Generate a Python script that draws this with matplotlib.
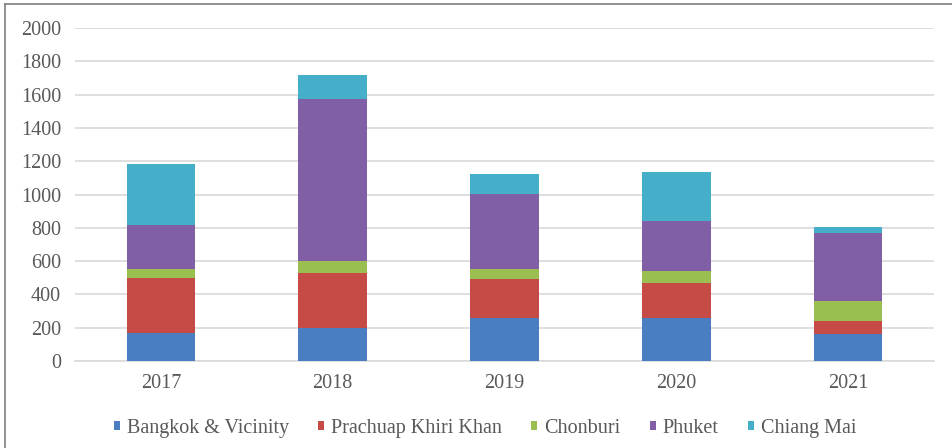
import matplotlib.pyplot as plt
import numpy as np

# data
years = ['2017', '2018', '2019', '2020', '2021']
bangkok = [170, 200, 260, 260, 160]
prachuap = [326, 326, 230, 206, 80]
chonburi = [54, 74, 60, 72, 118]
phuket = [266, 972, 456, 300, 410]
chiang_mai = [370, 144, 120, 298, 38]

series = [
    ('Bangkok & Vicinity', bangkok, '#4A7EC0'),
    ('Prachuap Khiri Khan', prachuap, '#C64A46'),
    ('Chonburi', chonburi, '#9BBE50'),
    ('Phuket', phuket, '#805FA6'),
    ('Chiang Mai', chiang_mai, '#45AFCA'),
]

plt.rcParams['font.family'] = ['Liberation Serif', 'DejaVu Serif']

fig = plt.figure(figsize=(9.52, 4.48), dpi=100)
ax = fig.add_axes([75 / 952, 1 - 361 / 448, 859 / 952, 333 / 448])

x = np.arange(len(years))
bottom = np.zeros(len(years))
for name, vals, color in series:
    ax.bar(x, vals, width=0.4, bottom=bottom, color=color, label=name, zorder=3)
    bottom += np.array(vals)

ax.set_xlim(-0.5, len(years) - 0.5)
ax.set_ylim(0, 2000)
ax.set_yticks(range(0, 2001, 200))
ax.set_xticks(x)
ax.set_xticklabels(years)
ax.grid(axis='y', color='#D9D9D9', linewidth=1.2, zorder=0)
for s in ['top', 'right', 'left']:
    ax.spines[s].set_visible(False)
ax.spines['bottom'].set_color('#D9D9D9')
ax.spines['bottom'].set_linewidth(1.2)
ax.tick_params(axis='both', length=0, labelsize=14.5, colors='#595959')
ax.tick_params(axis='y', pad=10)
ax.tick_params(axis='x', pad=9)

handles, labels = ax.get_legend_handles_labels()
fig.legend(handles, labels, loc='center', bbox_to_anchor=(485 / 952, 1 - 428 / 448),
           ncol=5, frameon=False, prop={'family': ['Liberation Serif', 'DejaVu Serif'], 'size': 14.5},
           handlelength=0.3, handleheight=0.3,
           handletextpad=0.35, columnspacing=1.45, labelcolor='#595959')

# outer frame
fig.add_artist(plt.Line2D([5 / 952, 5 / 952], [0, 1 - 4 / 448], color='#7F7F7F', linewidth=1.2))
fig.add_artist(plt.Line2D([5 / 952, 1], [1 - 4 / 448, 1 - 4 / 448], color='#7F7F7F', linewidth=1.2))

plt.savefig('out.png', dpi=100)
